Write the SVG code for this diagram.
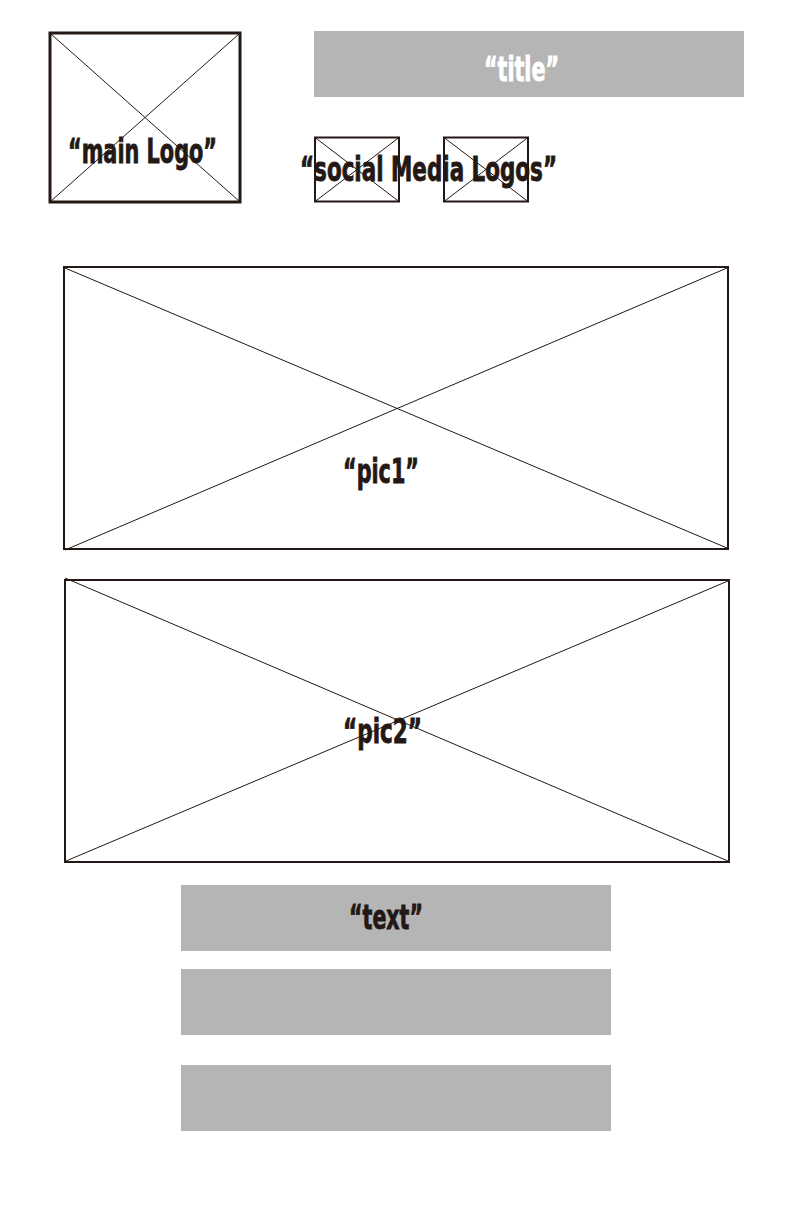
<svg xmlns="http://www.w3.org/2000/svg" width="792" height="1224" viewBox="0 0 792 1224">
<style>
.box{fill:#fff;stroke:#231815}
.x{stroke:#231815;stroke-width:1;fill:none}
.bar{fill:#b5b5b5}
.lbl{font-family:"DejaVu Sans Condensed","DejaVu Sans","Liberation Sans Narrow",sans-serif;font-weight:bold;font-size:33px;fill:#231815;stroke:#231815;stroke-width:0.8}
.white{fill:#fff;stroke:#fff}
</style>
<rect width="792" height="1224" fill="#fff"/>
<g id="main-logo">
<rect class="box" x="50" y="33" width="190" height="169" stroke-width="3"/>
<line class="x" x1="51" y1="34" x2="239" y2="201"/>
<line class="x" x1="239" y1="34" x2="51" y2="201"/>
<text class="lbl" x="68" y="163" textLength="149" lengthAdjust="spacingAndGlyphs">“main Logo”</text>
</g>
<g id="title">
<rect class="bar" x="314" y="31" width="430" height="66"/>
<text class="lbl white" x="484" y="81" textLength="75" lengthAdjust="spacingAndGlyphs">“title”</text>
</g>
<g id="social-media-logos">
<rect class="box" x="315" y="137.5" width="84" height="64" stroke-width="2"/>
<line class="x" x1="315" y1="137.5" x2="399" y2="201.5"/>
<line class="x" x1="399" y1="137.5" x2="315" y2="201.5"/>
<rect class="box" x="444" y="137.5" width="84" height="64" stroke-width="2"/>
<line class="x" x1="444" y1="137.5" x2="528" y2="201.5"/>
<line class="x" x1="528" y1="137.5" x2="444" y2="201.5"/>
<text class="lbl" x="300" y="181" textLength="257" lengthAdjust="spacingAndGlyphs">“social Media Logos”</text>
</g>
<g id="pic1">
<rect class="box" x="64" y="267" width="664" height="282" stroke-width="2"/>
<line class="x" x1="65" y1="268" x2="727" y2="548"/>
<line class="x" x1="727" y1="268" x2="65" y2="550"/>
<text class="lbl" x="343" y="483" textLength="76" lengthAdjust="spacingAndGlyphs">“pic1”</text>
</g>
<g id="pic2">
<rect class="box" x="65" y="580" width="664" height="282" fill="none" stroke-width="2"/>
<line class="x" x1="65" y1="578" x2="728" y2="861"/>
<line class="x" x1="728" y1="581" x2="66" y2="861"/>
<text class="lbl" x="343" y="743" textLength="79" lengthAdjust="spacingAndGlyphs">“pic2”</text>
</g>
<g id="text1">
<rect class="bar" x="181" y="885" width="430" height="66"/>
<text class="lbl" x="349" y="929" textLength="74" lengthAdjust="spacingAndGlyphs">“text”</text>
</g>
<g id="text2">
<rect class="bar" x="181" y="969" width="430" height="66"/>
</g>
<g id="text3">
<rect class="bar" x="181" y="1065" width="430" height="66"/>
</g>
<g id="connectors"></g>
</svg>
